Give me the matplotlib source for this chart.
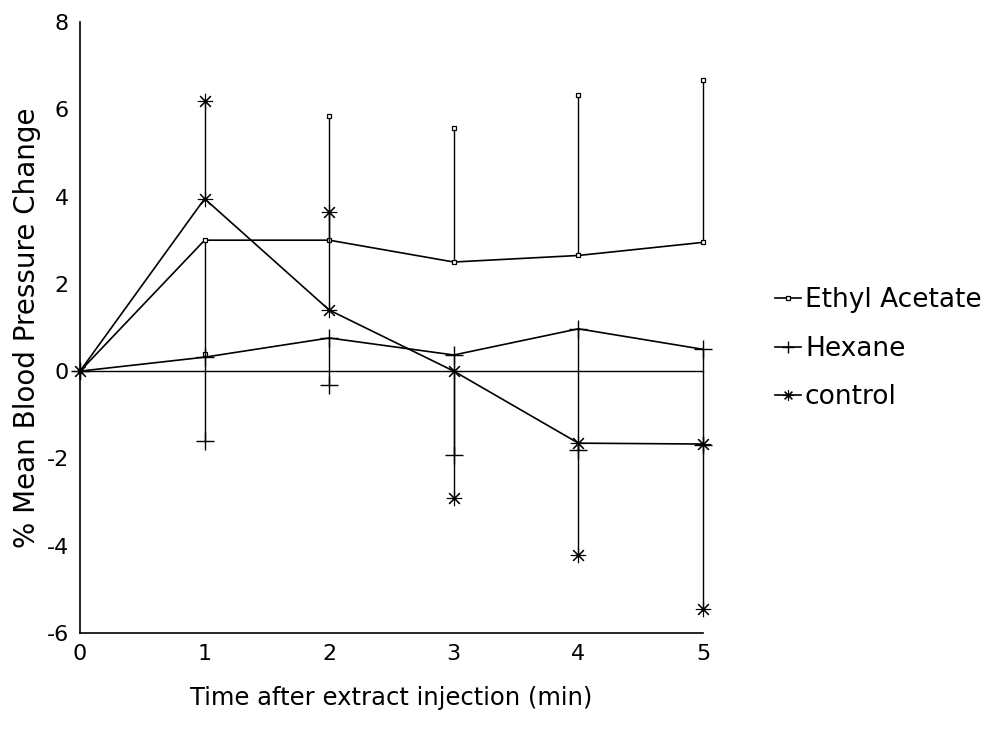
import matplotlib
matplotlib.use("Agg")
import matplotlib.pyplot as plt
import numpy as np

plt.rcParams['font.family'] = ['DejaVu Sans']

time = [0, 1, 2, 3, 4, 5]
ethyl = [0, 3.0, 3.0, 2.5, 2.65, 2.95]
ethyl_bound = [0, 0.4, 5.85, 5.57, 6.33, 6.67]
hexane = [0, 0.32, 0.76, 0.37, 0.97, 0.5]
hexane_bound = [0, -1.6, -0.32, -1.93, -1.8, -1.7]
control = [0, 3.95, 1.4, 0.0, -1.65, -1.67]
control_bound = [0, 6.2, 3.65, -2.9, -4.22, -5.44]

xticks = [0, 1, 2, 3, 4, 5]
yticks = [-6, -4, -2, 0, 2, 4, 6, 8]

fig = plt.figure(figsize=(10.04, 7.31), dpi=100)
ax = fig.add_axes([0.0797, 0.134, 0.6205, 0.836])

series = [
    ("Ethyl Acetate", ethyl, ethyl_bound, dict(marker='s', ms=3.5, mfc='white', mec='black', mew=0.9)),
    ("Hexane", hexane, hexane_bound, dict(marker='+', ms=13, mew=1.0)),
    ("control", control, control_bound, dict(marker=(8, 2, 0), ms=11, mew=0.8)),
]

ax.plot([0, 5], [0, 0], color='black', lw=1.0)

legend_handles = []
for name, vals, bounds, mk in series:
    # one-sided error bars with the series marker as cap
    for x, v, b in zip(time[1:], vals[1:], bounds[1:]):
        ax.plot([x, x], [v, b], color='black', lw=1.0)
    ax.plot(time[1:], bounds[1:], linestyle='none', color='black', **mk)
    h, = ax.plot(time, vals, color='black', lw=1.2, label=name, **mk)
    legend_handles.append(h)

ax.set_xlim(0, 5)
ax.set_ylim(-6, 8)
ax.set_xticks(xticks)
ax.set_yticks(yticks)
ax.set_yticklabels([str(t) for t in yticks])
ax.tick_params(length=0, labelsize=16, pad=8)
for s in ['top', 'right']:
    ax.spines[s].set_visible(False)
for s in ['left', 'bottom']:
    ax.spines[s].set_linewidth(1.2)
for ln in ax.lines:
    ln.set_clip_on(False)

ax.set_xlabel("Time after extract injection (min)", fontsize=17.5, labelpad=16)
ax.set_ylabel("% Mean Blood Pressure Change", fontsize=20, labelpad=4)

ax.legend(handles=legend_handles,
          loc='center left', bbox_to_anchor=(1.115, 0.465), frameon=False, fontsize=19,
          handlelength=1.0, handletextpad=0.15, labelspacing=0.85, markerscale=0.7,
          borderaxespad=0, borderpad=0)

fig.savefig("out.png", dpi=100)
